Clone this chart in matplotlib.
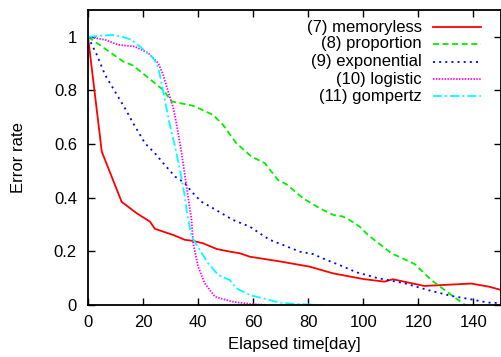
import matplotlib
matplotlib.use("Agg")
import matplotlib.pyplot as plt
from matplotlib.lines import Line2D

plt.rcParams['font.family'] = ['Liberation Sans', 'DejaVu Sans']

# elapsed time [day] / error rate
mem_t = [0, 5, 12.2, 17.7, 22.5, 24.3, 31, 35.2, 38.2, 41.8, 46.7, 51.5, 55.1, 58.8,
         70, 80.5, 89, 99.9, 107.7, 110.7, 122.2, 139.2, 145.8, 150]
mem_v = [1.0, 0.572, 0.385, 0.342, 0.311, 0.284, 0.261, 0.243, 0.239, 0.230, 0.209, 0.199, 0.193, 0.180,
         0.162, 0.143, 0.118, 0.097, 0.087, 0.096, 0.071, 0.080, 0.068, 0.056]

prop_t = [0, 12.8, 16.4, 27.3, 30.4, 38.2, 45.4, 49, 53.9, 59.4, 62.4, 64.2, 69, 72.1, 78.1,
          84.1, 89, 92.6, 95, 98.7, 101.7, 110.2, 118.6, 124.7, 129.5, 137]
prop_v = [1.0, 0.908, 0.893, 0.802, 0.759, 0.743, 0.709, 0.672, 0.603, 0.553, 0.538, 0.529, 0.466, 0.450, 0.398,
          0.361, 0.336, 0.330, 0.317, 0.292, 0.261, 0.193, 0.153, 0.093, 0.056, 0.0]

exp_t = [0, 3.2, 6.2, 9.8, 13.4, 16.4, 20.7, 24.3, 27.9, 31.6, 35.2, 37.6, 41.2, 44.9, 48.5,
         52.7, 58.8, 62.4, 66, 70.8, 76.9, 81.7, 86.6, 91.4, 97.5, 105.3, 115, 123.4, 131.9,
         139.2, 145.2, 150]
exp_v = [1.0, 0.933, 0.858, 0.796, 0.734, 0.678, 0.603, 0.566, 0.522, 0.479, 0.454, 0.423, 0.385, 0.364, 0.342,
         0.317, 0.292, 0.267, 0.243, 0.224, 0.199, 0.190, 0.168, 0.149, 0.122, 0.100, 0.081, 0.056, 0.034,
         0.021, 0.009, 0.007]

log_t = [0, 6.2, 11, 17, 21.9, 25.5, 27.3, 29.1, 31, 32.2, 34, 35.8, 37.6, 38.2, 40, 42.4,
         46.1, 48, 52.7, 58.8, 65]
log_v = [1.0, 0.989, 0.970, 0.964, 0.939, 0.902, 0.858, 0.796, 0.734, 0.672, 0.566, 0.441, 0.317, 0.230, 0.143, 0.081,
         0.031, 0.025, 0.012, 0.004, 0.0]

gom_t = [0, 5, 8.6, 12.2, 15.8, 19.5, 23.1, 24.9, 26.1, 27.3, 28.5, 29.7, 31.6, 33.4, 35.2,
         35.8, 37.6, 40.6, 43.6, 47.3, 51.5, 53.9, 58.8, 63.6, 69.6, 75, 85]
gom_v = [1.0, 1.004, 1.007, 1.001, 0.989, 0.958, 0.927, 0.902, 0.858, 0.796, 0.734, 0.672, 0.591, 0.504, 0.404,
         0.354, 0.255, 0.205, 0.156, 0.112, 0.093, 0.062, 0.037, 0.025, 0.009, 0.004, 0.0]

labels = ['(7) memoryless', '(8) proportion', '(9) exponential', '(10) logistic', '(11) gompertz']
colors = ['#ff0000', '#00ee00', '#0000ff', '#ff00ff', '#00ffff']
styles = ['-', (0, (3.3, 2.0)), (0, (1.1, 2.3)), (0, (0.8, 0.8)), (0, (5, 1.7, 1.1, 1.7))]
series = [(mem_t, mem_v), (prop_t, prop_v), (exp_t, exp_v), (log_t, log_v), (gom_t, gom_v)]

fig = plt.figure(figsize=(5.02, 3.57), dpi=100)
ax = fig.add_axes([88 / 502, 1 - 305 / 357, 413 / 502, 295 / 357])

lw = 1.3
for (t, v), c, ls in zip(series, colors, styles):
    ax.plot(t, v, color=c, linestyle=ls, linewidth=lw)

ax.set_xlim(0, 150)
ax.set_ylim(0, 1.1)
ax.set_xticks([0, 20, 40, 60, 80, 100, 120, 140])
ax.set_yticks([0, 0.2, 0.4, 0.6, 0.8, 1.0])
ax.set_yticklabels(['0', '0.2', '0.4', '0.6', '0.8', '1'])
ax.tick_params(direction='in', length=5, width=1, top=True, right=True, labelsize=12)
ax.tick_params(axis='x', pad=7)
ax.tick_params(axis='y', pad=8)
for s in ax.spines.values():
    s.set_linewidth(1.3)

ax.set_xlabel('Elapsed time[day]', fontsize=12)
ax.set_ylabel('Error rate', fontsize=12)
ax.xaxis.set_label_coords(0.5, -0.11)
ax.yaxis.set_label_coords(-0.15, 0.5)

# gnuplot style key: right aligned text, sample on the right
row_y = [0.942, 0.885, 0.824, 0.766, 0.708]
for lab, c, ls, y in zip(labels, colors, styles, row_y):
    ax.text(0.809, y, lab, transform=ax.transAxes, ha='right', va='center', fontsize=12)
    ax.add_line(Line2D([0.835, 0.952], [y, y], transform=ax.transAxes,
                       color=c, linestyle=ls, linewidth=lw))

fig.savefig('out.png', dpi=100)
